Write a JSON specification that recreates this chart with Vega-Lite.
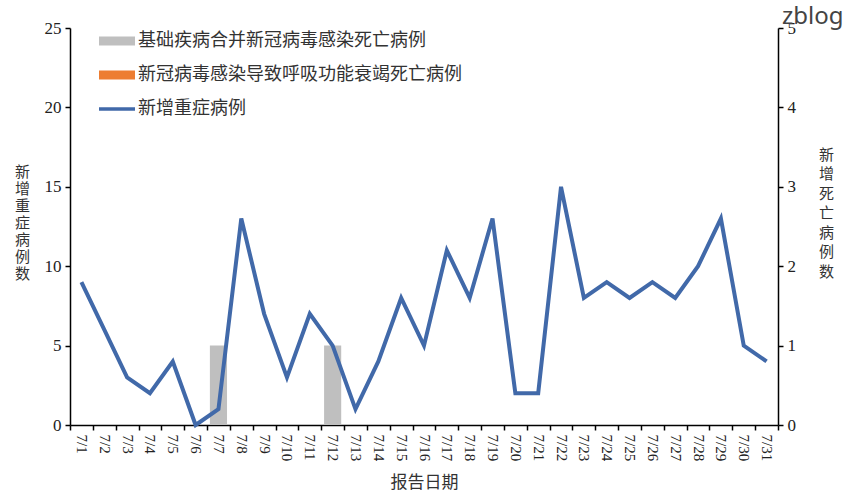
{
  "$schema": "https://vega.github.io/schema/vega-lite/v6.json",
  "description": "Daily new severe cases (line, left axis) and new deaths by cause (bars, right axis), July.",
  "autosize": "none",
  "width": 708,
  "height": 397,
  "padding": {"left": 70, "top": 28, "right": 68, "bottom": 75},
  "title": {
    "text": "zblog",
    "anchor": "end",
    "frame": "bounds",
    "offset": 2,
    "dx": 10,
    "dy": 12,
    "font": "Noto Sans",
    "fontSize": 24,
    "fontWeight": "normal",
    "color": "#444444"
  },
  "datasets": {
    "severe": [
      {"date": "7/1", "severe": 9},
      {"date": "7/2", "severe": 6},
      {"date": "7/3", "severe": 3},
      {"date": "7/4", "severe": 2},
      {"date": "7/5", "severe": 4},
      {"date": "7/6", "severe": 0},
      {"date": "7/7", "severe": 1},
      {"date": "7/8", "severe": 13},
      {"date": "7/9", "severe": 7},
      {"date": "7/10", "severe": 3},
      {"date": "7/11", "severe": 7},
      {"date": "7/12", "severe": 5},
      {"date": "7/13", "severe": 1},
      {"date": "7/14", "severe": 4},
      {"date": "7/15", "severe": 8},
      {"date": "7/16", "severe": 5},
      {"date": "7/17", "severe": 11},
      {"date": "7/18", "severe": 8},
      {"date": "7/19", "severe": 13},
      {"date": "7/20", "severe": 2},
      {"date": "7/21", "severe": 2},
      {"date": "7/22", "severe": 15},
      {"date": "7/23", "severe": 8},
      {"date": "7/24", "severe": 9},
      {"date": "7/25", "severe": 8},
      {"date": "7/26", "severe": 9},
      {"date": "7/27", "severe": 8},
      {"date": "7/28", "severe": 10},
      {"date": "7/29", "severe": 13},
      {"date": "7/30", "severe": 5},
      {"date": "7/31", "severe": 4}
    ],
    "deaths": [
      {"date": "7/7", "cause": "基础疾病合并新冠病毒感染死亡病例", "deaths": 1},
      {"date": "7/12", "cause": "基础疾病合并新冠病毒感染死亡病例", "deaths": 1}
    ]
  },
  "layer": [
    {
      "data": {"name": "deaths"},
      "mark": {"type": "bar", "width": {"band": 0.75}},
      "encoding": {
        "x": {"field": "date", "type": "ordinal"},
        "y": {
          "field": "deaths",
          "type": "quantitative",
          "stack": "zero",
          "scale": {"domain": [0, 5]},
          "axis": {
            "orient": "right",
            "values": [0, 1, 2, 3, 4, 5],
            "title": ["新", "增", "死", "亡", "病", "例", "数"],
            "titleAngle": 0,
            "titleAlign": "center",
            "titleBaseline": "top",
            "titleX": 48,
            "titleY": 119,
            "titleFontSize": 15,
            "titleLineHeight": 19.5
          }
        },
        "color": {"field": "cause", "type": "nominal"}
      }
    },
    {
      "data": {"name": "severe"},
      "mark": {"type": "line", "strokeWidth": 4, "strokeJoin": "miter"},
      "encoding": {
        "x": {"field": "date", "type": "ordinal"},
        "y": {
          "field": "severe",
          "type": "quantitative",
          "scale": {"domain": [0, 25]},
          "axis": {
            "orient": "left",
            "values": [0, 5, 10, 15, 20, 25],
            "title": ["新", "增", "重", "症", "病", "例", "数"],
            "titleAngle": 0,
            "titleAlign": "center",
            "titleBaseline": "top",
            "titleX": -48,
            "titleFontSize": 15,
            "titleY": 136,
            "titleLineHeight": 17
          }
        },
        "color": {"datum": "新增重症病例"}
      }
    }
  ],
  "encoding": {
    "x": {
      "field": "date",
      "type": "ordinal",
      "scale": {
        "domain": ["7/1", "7/2", "7/3", "7/4", "7/5", "7/6", "7/7", "7/8", "7/9", "7/10", "7/11", "7/12", "7/13", "7/14", "7/15", "7/16", "7/17", "7/18", "7/19", "7/20", "7/21", "7/22", "7/23", "7/24", "7/25", "7/26", "7/27", "7/28", "7/29", "7/30", "7/31"],
        "paddingInner": 0,
        "paddingOuter": 0
      },
      "axis": {
        "title": "报告日期",
        "labelAngle": 90,
        "labelAlign": "left",
        "labelBaseline": "middle",
        "labelFontSize": 15,
        "tickBand": "extent",
        "titleFontSize": 17,
        "titlePadding": 14
      }
    },
    "color": {
      "type": "nominal",
      "scale": {
        "domain": ["基础疾病合并新冠病毒感染死亡病例", "新冠病毒感染导致呼吸功能衰竭死亡病例", "新增重症病例"],
        "range": ["#BFBFBF", "#ED7D31", "#4169A9"]
      },
      "legend": {
        "title": null,
        "orient": "none",
        "legendX": 32,
        "legendY": -2,
        "padding": 0,
        "symbolType": "M-1.2,-0.3H1.2V0.3H-1.2Z",
        "symbolSize": 900,
        "symbolStrokeWidth": 0,
        "symbolOpacity": 1,
        "labelOffset": 6,
        "rowPadding": 10,
        "labelFont": "Noto Sans CJK SC",
        "labelFontSize": 18,
        "labelColor": "#333333",
        "labelLimit": 400,
        "encode": {
          "symbols": {
            "update": {
              "shape": {"signal": "datum.value === '新增重症病例' ? 'M-1.2,-0.12H1.2V0.12H-1.2Z' : 'M-1.2,-0.3H1.2V0.3H-1.2Z'"}
            }
          }
        }
      }
    }
  },
  "resolve": {"scale": {"y": "independent"}},
  "config": {
    "view": {"stroke": null},
    "axis": {
      "grid": false,
      "domainColor": "#000000",
      "domainWidth": 1.5,
      "tickColor": "#000000",
      "tickWidth": 1.5,
      "tickSize": 5,
      "labelFont": "Liberation Serif",
      "labelFontSize": 17,
      "labelColor": "#222222",
      "labelPadding": 4,
      "titleFont": "Noto Sans CJK SC",
      "titleFontSize": 16,
      "titleFontWeight": "normal",
      "titleColor": "#333333"
    }
  }
}
